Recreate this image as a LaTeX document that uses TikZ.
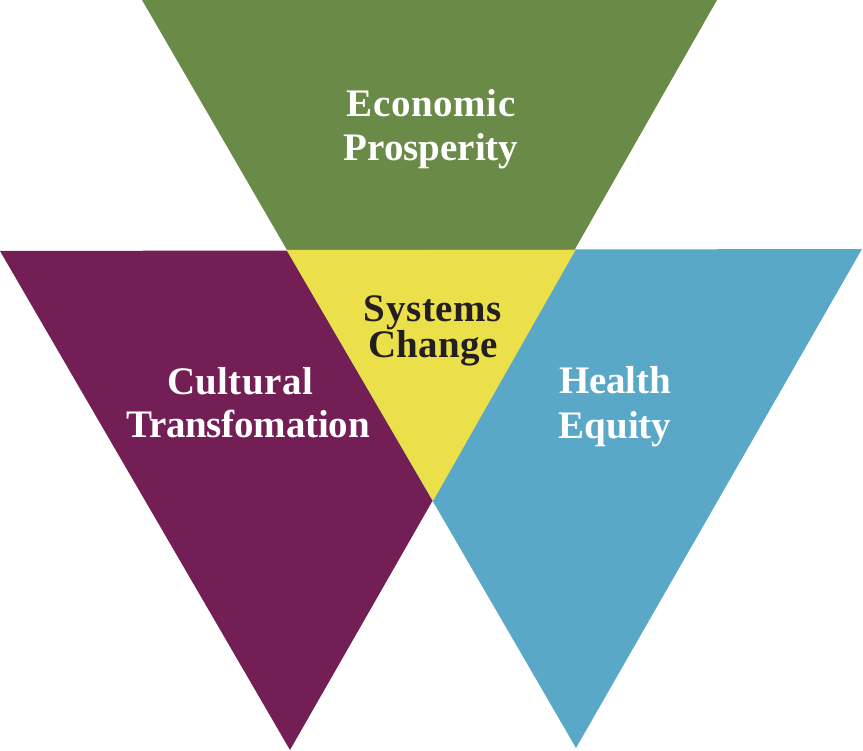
\documentclass[tikz,border=0pt]{standalone}
\usepackage{fontspec}
\setmainfont{Liberation Serif}
\definecolor{ecogreen}{HTML}{6A8A47}
\definecolor{culpurple}{HTML}{731F55}
\definecolor{healthblue}{HTML}{5AA8C8}
\definecolor{sysyellow}{HTML}{ECE04A}
\definecolor{darktext}{HTML}{231F20}
\begin{document}
\begin{tikzpicture}[x=1pt,y=-1pt,
  lbl/.style={anchor=base,inner sep=0pt,font=\fontsize{39}{40}\selectfont\bfseries},
  whitelbl/.style={lbl,text=white},
  darklbl/.style={lbl,text=darktext}]
\useasboundingbox (0,0) rectangle (863,751);
% triangles
\fill[ecogreen] (142,0) -- (717,0) -- (432,500) -- cycle;
\fill[culpurple] (0,251) -- (576,250) -- (290,750) -- cycle;
\fill[healthblue] (287,250) -- (862,249) -- (576,748) -- cycle;
\fill[sysyellow] (286.5,250) -- (575.5,250) -- (433,501) -- cycle;
% labels
\node[whitelbl] (eco1) at (431,117) {\addfontfeature{LetterSpace=1.5}Economic};
\node[whitelbl] (eco2) at (431,161) {Prosperity};
\node[darklbl] (sys1) at (433,322) {\addfontfeature{LetterSpace=1.7}Systems};
\node[darklbl] (sys2) at (433,358) {\addfontfeature{LetterSpace=1}Change};
\node[whitelbl] (cul1) at (240,395) {\addfontfeature{LetterSpace=1}Cultural};
\node[whitelbl] (cul2) at (248,438) {\addfontfeature{LetterSpace=-0.6}Transfomation};
\node[whitelbl] (hea1) at (615,394) {\addfontfeature{LetterSpace=-0.5}Health};
\node[whitelbl] (hea2) at (615,439) {Equity};
\end{tikzpicture}
\end{document}
